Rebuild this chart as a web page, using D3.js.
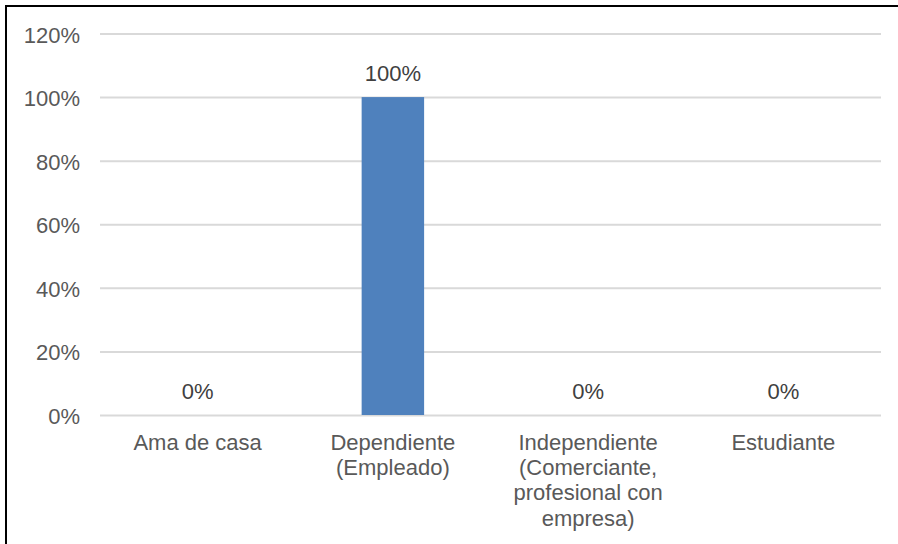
<!DOCTYPE html>
<html><head><meta charset="utf-8">
<script src="https://cdn.jsdelivr.net/npm/d3@7"></script>
<style>body{margin:0;background:#fff}svg{display:block}</style>
</head><body>
<svg id="c" width="898" height="544"></svg>
<script>
const categories = ["Ama de casa", "Dependiente (Empleado)", "Independiente (Comerciante, profesional con empresa)", "Estudiante"];
const categoryLines = [["Ama de casa"], ["Dependiente", "(Empleado)"], ["Independiente", "(Comerciante,", "profesional con", "empresa)"], ["Estudiante"]];
const values = [0, 1, 0, 0];
const yTicks = [0, 0.2, 0.4, 0.6, 0.8, 1.0, 1.2];

const svg = d3.select("#c");
const font = "'Liberation Sans', Arial, sans-serif";
const m = {left: 100, right: 881, top: 33.5, bottom: 415};

svg.append("rect").attr("x", 6).attr("y", 6).attr("width", 900).attr("height", 550)
  .attr("fill", "#fff").attr("stroke", "#000").attr("stroke-width", 2);

const x = d3.scaleBand().domain(categories).range([m.left, m.right]).padding(0);
const y = d3.scaleLinear().domain([0, 1.2]).range([m.bottom, m.top]);

// gridlines + y labels
const yAxis = d3.axisLeft(y).tickValues(yTicks).tickFormat(d3.format(".0%")).tickSize(-(m.right - m.left)).tickPadding(20);
const gy = svg.append("g").attr("transform", `translate(${m.left},0)`).call(yAxis);
gy.select(".domain").remove();
gy.selectAll(".tick line").attr("stroke", "#d9d9d9").attr("stroke-width", 2);
gy.selectAll(".tick text").attr("fill", "#595959").attr("y", 1.5).style("font-family", font).style("font-size", "22px");

// bars
const bw = x.step() * 0.32;
svg.append("g").selectAll("rect").data(values).join("rect")
  .attr("x", (d, i) => x(categories[i]) + x.bandwidth() / 2 - bw / 2)
  .attr("width", bw)
  .attr("y", d => y(d))
  .attr("height", d => y(0) - y(d))
  .attr("fill", "#4f81bd");

// data labels
svg.append("g").selectAll("text").data(values).join("text")
  .attr("x", (d, i) => x(categories[i]) + x.bandwidth() / 2)
  .attr("y", d => y(d) - 16)
  .attr("text-anchor", "middle")
  .attr("fill", "#404040")
  .style("font-family", font).style("font-size", "22px")
  .text(d => d3.format(".0%")(d));

// category labels
const gx = svg.append("g");
categories.forEach((c, i) => {
  const t = gx.append("text")
    .attr("text-anchor", "middle")
    .attr("fill", "#595959")
    .style("font-family", font).style("font-size", "22px");
  categoryLines[i].forEach((ln, j) => {
    t.append("tspan").attr("x", x(c) + x.bandwidth() / 2).attr("y", 449.5 + j * 25.4).text(ln);
  });
});
</script>
</body></html>
